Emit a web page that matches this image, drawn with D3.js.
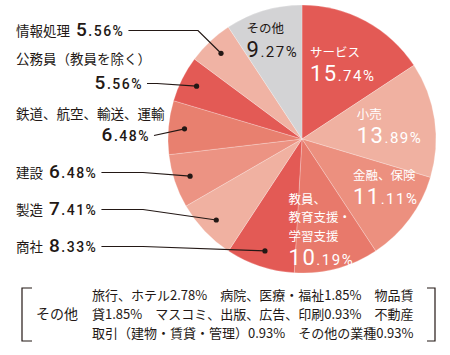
<!DOCTYPE html>
<html>
<head>
<meta charset="utf-8">
<script src="https://cdn.jsdelivr.net/npm/d3@7"></script>
<style>
	body { margin: 0; background: #fff; }
	svg { display: block; }
</style>
</head>
<body>
<div id="chart"></div>
<script>
// share of graduates by industry (%), clockwise from 12 o'clock
const categories = ['サービス', '小売', '金融、保険', '教員、教育支援・学習支援', '商社', '製造', '建設', '鉄道、航空、輸送、運輸', '公務員（教員を除く）', '情報処理', 'その他'];
const values = [15.74, 13.89, 11.11, 10.19, 8.33, 7.41, 6.48, 6.48, 5.56, 5.56, 9.27];

// breakdown of "その他"
const otherNames = ['旅行、ホテル', '病院、医療・福祉', '物品賃貸', 'マスコミ、出版、広告、印刷', '不動産取引（建物・賃貸・管理）', 'その他の業種'];
const otherValues = [2.78, 1.85, 1.85, 0.93, 0.93, 0.93];

const width = 450;
const height = 355;
const cx = 302, cy = 139, radius = 134;
const jp = '"Noto Sans CJK JP", "Noto Sans", sans-serif';
const num = 'Roboto, "Noto Sans", sans-serif';
const ink = '#231815';
const fmt = d3.format('.2f');

const color = d3.scaleOrdinal(categories, [
	'#e35a55', '#f0b1a1', '#ec907f', '#e8796b', '#e35a55', '#f0b1a1',
	'#ec9383', '#e8806f', '#e35a55', '#f0b3a4', '#d3d3d5'
]);

const svg = d3.select('#chart').append('svg').attr('width', width).attr('height', height);

const pie = d3.pie().sort(null).value((d) => d.value);
const arcs = pie(categories.map((c, i) => ({ name: c, value: values[i] })));
const arc = d3.arc().innerRadius(0).outerRadius(radius);

const g = svg.append('g').attr('transform', `translate(${cx},${cy})`);

g.selectAll('path')
	.data(arcs)
	.join('path')
	.attr('d', arc)
	.attr('fill', (d) => color(d.data.name))
	.attr('stroke', '#fff')
	.attr('stroke-opacity', 0.4)
	.attr('stroke-width', 0.6);

// point inside a slice: t = position across the slice (0..1), k = fraction of radius
function slicePoint(d, k, t = 0.5) {
	const a = d.startAngle + (d.endAngle - d.startAngle) * t;
	return [Math.sin(a) * radius * k, -Math.cos(a) * radius * k];
}

// value like 15.74% : integer part big, the rest smaller
function addValue(text, v, big, small) {
	const parts = fmt(v).split('.');
	text.append('tspan').attr('font-size', big).text(parts[0]);
	text.append('tspan').attr('font-size', small).text('.' + parts[1] + '%');
}

// labels inside the pie
const inside = [
	{ i: 0, lines: ['サービス'], k: 0.64 },
	{ i: 1, lines: ['小売'], k: 0.66 },
	{ i: 2, lines: ['金融、保険'], k: 0.72, t: 0.33 },
	{ i: 3, lines: ['教員、', '教育支援・', '学習支援'], k: 0.69, t: 0.58 },
	{ i: 10, lines: ['その他'], k: 0.77, dark: true }
];

inside.forEach((lab) => {
	const d = arcs[lab.i];
	const fill = lab.dark ? ink : '#fff';
	const lg = g.append('g');
	lab.lines.forEach((t, j) => {
		lg.append('text')
			.attr('x', 0)
			.attr('y', j * 18.5)
			.attr('font-family', jp)
			.attr('font-size', 12.5)
			.attr('fill', fill)
			.text(t);
	});
	const vt = lg.append('text')
		.attr('x', 0)
		.attr('y', (lab.lines.length - 1) * 18.5 + 24)
		.attr('font-family', num)
		.attr('letter-spacing', 1.5)
		.attr('fill', fill);
	addValue(vt, values[lab.i], 22, 15);

	const bb = lg.node().getBBox();
	const [px, py] = slicePoint(d, lab.k, lab.t);
	lg.attr('transform', `translate(${px - bb.x - bb.width / 2},${py - bb.y - bb.height / 2})`);
});

// labels on the left with leader lines
const outside = [
	{ i: 9, y: 36, inline: true, elbow: 198 },
	{ i: 8, y: 64, vy: 89, vx: 143, elbow: 157 },
	{ i: 7, y: 119, vy: 141, vx: 150 },
	{ i: 6, y: 178, inline: true, elbow: 143 },
	{ i: 5, y: 215, inline: true, elbow: 143 },
	{ i: 4, y: 252, inline: true, elbow: 143 }
];

const lab = svg.append('g');

outside.forEach((o) => {
	const name = lab.append('text')
		.attr('x', 16)
		.attr('y', o.y)
		.attr('font-family', jp)
		.attr('font-size', 13.5)
		.attr('fill', ink)
		.text(categories[o.i]);

	let vx, vy;
	const vt = lab.append('text')
		.attr('font-family', num)
		.attr('font-weight', 500)
		.attr('letter-spacing', 1.5)
		.attr('fill', ink);
	addValue(vt, values[o.i], 19, 14);

	if (o.inline) {
		vx = 16 + name.node().getComputedTextLength() + 6;
		vy = o.y;
		vt.attr('x', vx).attr('y', vy);
	} else {
		vt.attr('x', o.vx).attr('y', o.vy).attr('text-anchor', 'end');
		vy = o.vy;
	}
	const vb = vt.node().getBBox();
	const x0 = vb.x + vb.width + 4;
	const y0 = vy - 5.5;

	const [dx, dy] = slicePoint(arcs[o.i], 0.88);
	const px = cx + dx, py = cy + dy;

	const path = d3.path();
	path.moveTo(x0, y0);
	if (o.elbow && o.elbow > x0) path.lineTo(o.elbow, y0);
	path.lineTo(px, py);

	lab.append('path')
		.attr('d', path.toString())
		.attr('fill', 'none')
		.attr('stroke', ink)
		.attr('stroke-width', 1.2);
	lab.append('circle')
		.attr('cx', px)
		.attr('cy', py)
		.attr('r', 2.6)
		.attr('fill', ink);
});

// box with the breakdown of その他
const box = svg.append('g');

box.append('path')
	.attr('d', 'M32,288H22V341H32M427,288H435V341H427')
	.attr('fill', 'none')
	.attr('stroke', ink)
	.attr('stroke-width', 1.2);

box.append('text')
	.attr('x', 36)
	.attr('y', 319)
	.attr('font-family', jp)
	.attr('font-size', 14)
	.attr('fill', ink)
	.text('その他');

const fullText = otherNames.map((n, i) => n + fmt(otherValues[i]) + '%').join('　');

// wrap by characters, measured with a temporary text node
const probe = box.append('text').attr('font-family', jp).attr('font-size', 13);
const maxW = 330;
const rows = [];
let cur = '';
for (const ch of fullText) {
	probe.text(cur + ch);
	if (probe.node().getComputedTextLength() > maxW && cur) {
		rows.push(cur);
		cur = ch === '　' ? '' : ch;
	} else {
		cur += ch;
	}
}
if (cur) rows.push(cur);
probe.remove();

box.selectAll('text.row')
	.data(rows)
	.join('text')
	.attr('class', 'row')
	.attr('x', 92)
	.attr('y', (d, i) => 300 + i * 19)
	.attr('font-family', jp)
	.attr('font-size', 13)
	.attr('fill', ink)
	.text((d) => d);
</script>
</body>
</html>
